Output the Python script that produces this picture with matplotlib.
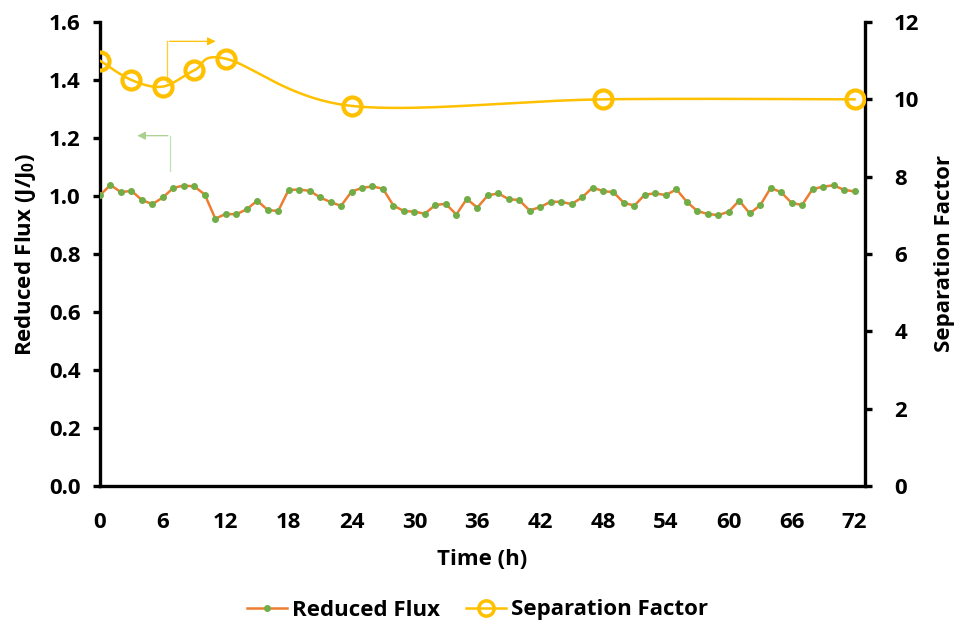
import numpy as np
import matplotlib
matplotlib.use("Agg")
import matplotlib.pyplot as plt
from matplotlib.lines import Line2D

plt.rcParams['font.family'] = ['Open Sans', 'DejaVu Sans']
plt.rcParams['font.weight'] = 'bold'
plt.rcParams['mathtext.fontset'] = 'custom'
plt.rcParams['mathtext.bf'] = 'Open Sans:bold'
plt.rcParams['mathtext.rm'] = 'Open Sans:bold'

time_flux = list(range(0, 73))
reduced_flux = [1.003, 1.038, 1.013, 1.018, 0.986, 0.972, 0.995, 1.028, 1.036, 1.033,
                1.005, 0.922, 0.938, 0.937, 0.954, 0.984, 0.952, 0.948, 1.021, 1.022,
                1.018, 0.995, 0.979, 0.966, 1.015, 1.028, 1.033, 1.025, 0.967, 0.948,
                0.946, 0.939, 0.969, 0.973, 0.936, 0.990, 0.960, 1.002, 1.009, 0.989,
                0.986, 0.950, 0.962, 0.980, 0.980, 0.972, 0.995, 1.029, 1.017, 1.013,
                0.976, 0.967, 1.005, 1.009, 1.003, 1.023, 0.980, 0.948, 0.938, 0.934,
                0.946, 0.984, 0.940, 0.968, 1.028, 1.013, 0.976, 0.969, 1.024, 1.032,
                1.037, 1.021, 1.016]

time_sf = [0, 3, 6, 9, 12, 24, 48, 72]
sep_factor = [11.0, 10.5, 10.33, 10.75, 11.05, 9.83, 10.0, 10.0]

x_ticks = list(range(0, 73, 6))
left_ticks = [0.0, 0.2, 0.4, 0.6, 0.8, 1.0, 1.2, 1.4, 1.6]
right_ticks = [0, 2, 4, 6, 8, 10, 12]

ORANGE = '#ED7D31'
GREEN = '#70AD47'
GOLD = '#FFC000'


def excel_smooth(xs, ys, n=40):
    xs = np.asarray(xs, float); ys = np.asarray(ys, float)
    P = np.column_stack([xs, ys])
    Pe = np.vstack([P[0], P, P[-1]])
    out = []
    for i in range(len(P) - 1):
        p0, p1, p2, p3 = Pe[i], Pe[i + 1], Pe[i + 2], Pe[i + 3]
        c1 = p1 + (p2 - p0) / 6.0
        c2 = p2 - (p3 - p1) / 6.0
        t = np.linspace(0, 1, n)[:, None]
        seg = ((1 - t) ** 3) * p1 + 3 * ((1 - t) ** 2) * t * c1 + 3 * (1 - t) * t ** 2 * c2 + t ** 3 * p2
        out.append(seg if i == 0 else seg[1:])
    S = np.vstack(out)
    return S[:, 0], S[:, 1]


FS = 16

fig = plt.figure(figsize=(9.55, 6.3), dpi=100)
ax = fig.add_axes([100 / 955, 1 - 486 / 630, 765 / 955, 464 / 630])
ax2 = ax.twinx()

ax.plot(time_flux, reduced_flux, color=ORANGE, lw=1.8, marker='o', ms=4,
        mfc=GREEN, mec=GREEN, zorder=3)

sx, sy = excel_smooth(time_sf, sep_factor)
ax2.plot(sx, sy, color=GOLD, lw=1.8, zorder=3)
ax2.plot(time_sf, sep_factor, ls='none', marker='o', ms=13, mfc='none', mec=GOLD,
         mew=3, zorder=4)

ax.set_xlim(0, 73)
ax.set_ylim(0, 1.6)
ax2.set_ylim(0, 12)
ax.set_xticks(x_ticks)
ax.set_yticks(left_ticks)
ax.set_yticklabels([f'{v:.1f}' for v in left_ticks])
ax2.set_yticks(right_ticks)

for a in (ax, ax2):
    for s in a.spines.values():
        s.set_visible(False)
ax.spines['left'].set_visible(True)
ax.spines['bottom'].set_visible(True)
ax2.spines['right'].set_visible(True)
for s in (ax.spines['left'], ax.spines['bottom'], ax2.spines['right']):
    s.set_linewidth(2.4)
    s.set_color('black')

ax.tick_params(axis='x', length=0, pad=19, labelsize=FS)
ax.tick_params(axis='y', direction='out', length=5, width=2.4, pad=9, labelsize=FS)
ax2.tick_params(axis='y', direction='out', length=5, width=2.4, pad=16, labelsize=FS)
for lab in ax.get_xticklabels() + ax.get_yticklabels() + ax2.get_yticklabels():
    lab.set_fontweight('bold')

ax.set_xlabel('Time (h)', fontsize=FS, fontweight='bold', labelpad=11)
ax.set_ylabel('Reduced Flux (J/J$_\\mathbf{0}$)', fontsize=FS, fontweight='bold', labelpad=8)
ax2.set_ylabel('Separation Factor', fontsize=FS, fontweight='bold', labelpad=10)

# indicator arrows
ax2.plot([6.4, 6.4], [10.45, 11.5], color=GOLD, lw=0.9, alpha=0.8, zorder=2)
ax2.annotate('', xy=(11.3, 11.5), xytext=(6.35, 11.5),
             arrowprops=dict(arrowstyle='-|>', color=GOLD, lw=0.9, mutation_scale=12))
ax.plot([6.7, 6.7], [1.085, 1.208], color='#C5E0B4', lw=0.9, zorder=2)
ax.annotate('', xy=(3.3, 1.208), xytext=(6.75, 1.208),
            arrowprops=dict(arrowstyle='-|>', color='#A9D18E', lw=0.9, mutation_scale=12))

handles = [
    Line2D([], [], color=ORANGE, lw=1.8, marker='o', ms=4, mfc=GREEN, mec=GREEN),
    Line2D([], [], color=GOLD, lw=1.8, marker='o', ms=11, mfc='none', mec=GOLD, mew=2.5),
]
fig.legend(handles, ['Reduced Flux', 'Separation Factor'], loc='center',
           bbox_to_anchor=(0.5, 1 - 610 / 630), ncol=2, frameon=False,
           prop={'size': FS, 'weight': 'bold'}, handlelength=1.8, columnspacing=1.2,
           handletextpad=0.2)

fig.savefig('out.png', dpi=100)
